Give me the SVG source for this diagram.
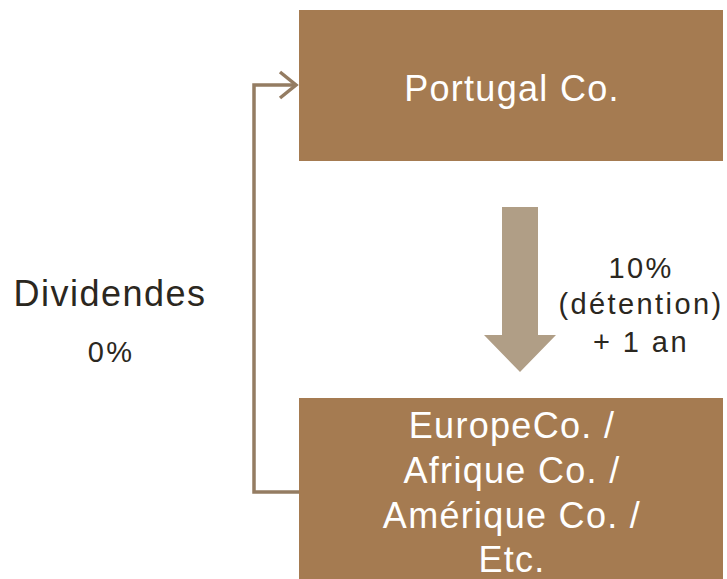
<svg xmlns="http://www.w3.org/2000/svg" width="727" height="579" viewBox="0 0 727 579">
<style>
.box{fill:#a57b51}
.bt{font-family:"Liberation Sans",Arial,sans-serif;font-size:36px;fill:#ffffff;text-anchor:middle;letter-spacing:1.3px}
.lt{font-family:"Liberation Sans",Arial,sans-serif;fill:#2b2720;text-anchor:middle}
.sm{font-size:29px;letter-spacing:2.4px}
.con{fill:none;stroke:#947c62;stroke-width:3.5}
</style>
<rect width="727" height="579" fill="#ffffff"/>
<g id="portugal">
<rect class="box" x="299" y="10" width="424" height="151"/>
<text class="bt" x="512" y="101">Portugal Co.</text>
</g>
<g id="europe">
<rect class="box" x="299" y="398" width="424" height="181"/>
<text class="bt" x="512" y="438">EuropeCo. /</text>
<text class="bt" x="512" y="483">Afrique Co. /</text>
<text class="bt" x="512" y="528">Amérique Co. /</text>
<text class="bt" x="512" y="572">Etc.</text>
</g>
<g id="dividendes">
<text class="lt" x="110" y="306" font-size="36" letter-spacing="1.5">Dividendes</text>
<text class="lt sm" x="111" y="362">0%</text>
</g>
<g id="condition">
<text class="lt sm" x="641" y="278">10%</text>
<text class="lt sm" x="641" y="314">(détention)</text>
<text class="lt sm" x="641" y="352">+ 1 an</text>
</g>
<g id="connectors">
<polyline class="con" points="299,492 254,492 254,85 296,85"/>
<polyline class="con" points="280,72 296,85 280,98"/>
<polygon fill="#b09e86" points="502,207 538,207 538,335 556,335 520,372 484,335 502,335"/>
</g>
</svg>
